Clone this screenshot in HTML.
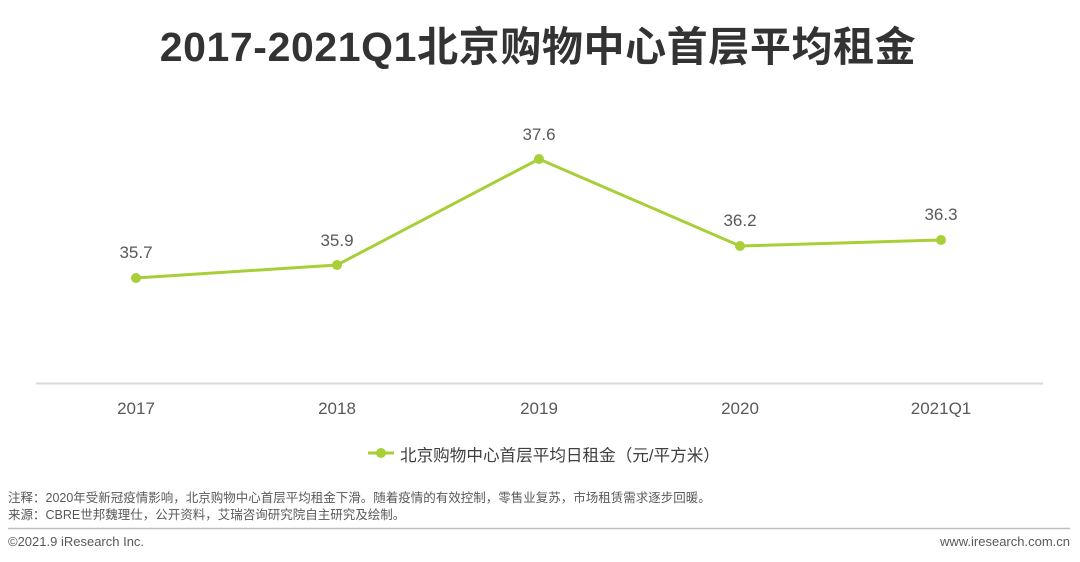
<!DOCTYPE html>
<html><head><meta charset="utf-8"><style>
body{margin:0;width:1080px;height:562px;background:#fff;overflow:hidden;position:relative;font-family:"Liberation Sans","Noto Sans CJK SC",sans-serif;}
.t{position:absolute;white-space:nowrap;}
</style></head><body>
<div class="t" style="left:0;width:1076px;text-align:center;top:13px;font-size:41px;font-weight:bold;color:#333;letter-spacing:0.6px;">2017-2021Q1北京购物中心首层平均租金</div>
<svg width="1080" height="562" style="position:absolute;left:0;top:0">
<line x1="36" y1="383.5" x2="1043" y2="383.5" stroke="#d9d9d9" stroke-width="2"/>
<polyline points="136,278 337,265 539,159 740,246 941,240" fill="none" stroke="#a8cf38" stroke-width="3"/>
<g fill="#a8cf38"><circle cx="136" cy="278" r="5"/><circle cx="337" cy="265" r="5"/><circle cx="539" cy="159" r="5"/><circle cx="740" cy="246" r="5"/><circle cx="941" cy="240" r="5"/></g>
<g font-family="Liberation Sans" font-size="17" fill="#595959" text-anchor="middle">
<text x="136" y="258">35.7</text><text x="337" y="246">35.9</text><text x="539" y="140">37.6</text><text x="740" y="226">36.2</text><text x="941" y="220">36.3</text>
<text x="136" y="414">2017</text><text x="337" y="414">2018</text><text x="539" y="414">2019</text><text x="740" y="414">2020</text><text x="941" y="414">2021Q1</text>
</g>
<line x1="368" y1="453" x2="394" y2="453" stroke="#a8cf38" stroke-width="3"/>
<circle cx="381" cy="453" r="5" fill="#a8cf38"/>
<line x1="8" y1="528.5" x2="1070" y2="528.5" stroke="#bfbfbf" stroke-width="1.5"/>
</svg>
<div class="t" style="left:400px;top:442px;font-size:16.6px;color:#404040;">北京购物中心首层平均日租金（元/平方米）</div>
<div class="t" style="left:8px;top:487px;font-size:12.5px;color:#595959;">注释：2020年受新冠疫情影响，北京购物中心首层平均租金下滑。随着疫情的有效控制，零售业复苏，市场租赁需求逐步回暖。</div>
<div class="t" style="left:8px;top:504px;font-size:12.5px;color:#595959;">来源：CBRE世邦魏理仕，公开资料，艾瑞咨询研究院自主研究及绘制。</div>
<div class="t" style="left:8px;top:534px;font-size:13px;color:#595959;">©2021.9 iResearch Inc.</div>
<div class="t" style="right:10px;top:534px;font-size:13px;color:#595959;">www.iresearch.com.cn</div>
</body></html>
